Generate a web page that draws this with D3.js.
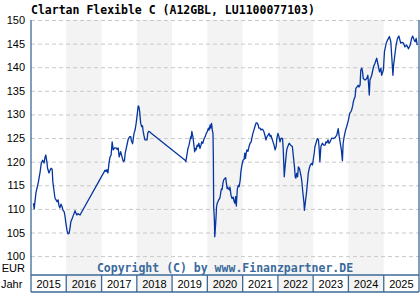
<!DOCTYPE html>
<html>
<head>
<meta charset="utf-8">
<script src="https://cdn.jsdelivr.net/npm/d3@7"></script>
<style>
  html, body { margin: 0; padding: 0; background: #fff; }
  svg { display: block; }
</style>
</head>
<body>
<svg id="chart" width="420" height="300"></svg>
<script>
// ---------- data ----------
const title = "Clartan Flexible C (A12GBL, LU1100077103)";
const copyright = "Copyright (C) by www.Finanzpartner.DE";
const yearLabels = ["2015","2016","2017","2018","2019","2020","2021","2022","2023","2024","2025"];
const yTicks = [100,105,110,115,120,125,130,135,140,145,150];
const unitLabel = "EUR";
const axisLabel = "Jahr";

// time as decimal years
const yearFrac = [
2015.07,2015.09,2015.14,2015.21,2015.26,2015.29,2015.33,2015.37,2015.40,2015.42,2015.45,2015.47,2015.51,2015.54,2015.57,2015.60,2015.62,2015.65,2015.68,2015.71,2015.74,2015.77,2015.79,2015.82,2015.85,2015.88,2015.91,2015.94,2015.96,2015.99,
2016.02,2016.05,2016.08,2016.11,2016.13,2016.18,2016.22,2016.25,2016.28,2016.30,2016.33,2016.39,
2017.10,2017.13,2017.15,2017.18,2017.21,2017.24,2017.27,2017.30,2017.33,2017.37,2017.41,2017.44,2017.47,2017.50,2017.54,2017.58,2017.62,2017.65,2017.67,2017.70,2017.73,2017.76,2017.80,2017.83,2017.84,2017.88,2017.92,2017.95,2017.98,
2018.01,2018.03,2018.04,2018.06,2018.08,2018.11,2018.14,2018.16,2018.18,2018.20,2018.23,2018.26,2018.29,2018.31,2018.33,2018.37,2018.39,
2019.37,2019.39,2019.42,2019.45,2019.48,2019.51,2019.53,2019.54,2019.56,2019.59,2019.62,2019.64,2019.66,2019.68,2019.71,2019.73,2019.76,2019.79,2019.82,2019.84,2019.87,2019.91,2019.94,2019.97,
2020.00,2020.03,2020.05,2020.08,2020.10,2020.12,2020.14,2020.16,2020.17,2020.18,2020.20,2020.21,2020.23,2020.25,2020.26,2020.28,2020.30,2020.32,2020.35,2020.37,2020.39,2020.41,2020.42,2020.44,2020.46,2020.49,2020.52,2020.54,2020.56,2020.58,2020.59,2020.63,2020.64,2020.67,2020.70,2020.73,2020.76,2020.78,2020.80,2020.82,2020.85,2020.88,2020.90,2020.93,2020.95,2020.98,
2021.01,2021.04,2021.06,2021.08,2021.10,2021.12,2021.15,2021.18,2021.21,2021.24,2021.27,2021.29,2021.32,2021.35,2021.38,2021.41,2021.44,2021.46,2021.49,2021.52,2021.55,2021.58,2021.60,2021.63,2021.66,2021.69,2021.72,2021.75,2021.78,2021.80,2021.83,2021.86,2021.89,2021.92,2021.95,2021.97,
2022.00,2022.03,2022.06,2022.09,2022.13,2022.15,2022.18,2022.20,2022.22,2022.25,2022.28,2022.32,2022.36,2022.41,2022.44,2022.47,2022.49,2022.51,2022.53,2022.56,2022.58,2022.61,2022.63,2022.66,2022.68,2022.70,2022.72,2022.74,2022.75,2022.77,2022.79,2022.81,2022.83,2022.85,2022.86,2022.89,2022.92,2022.95,2022.98,
2023.00,2023.03,2023.05,2023.08,2023.12,2023.15,2023.17,2023.19,2023.22,2023.26,2023.30,2023.34,2023.36,2023.39,2023.42,2023.45,2023.48,2023.50,2023.53,2023.58,2023.62,2023.67,2023.71,2023.74,2023.77,2023.80,2023.83,2023.85,2023.88,2023.92,2023.95,
2024.00,2024.02,2024.04,2024.07,2024.09,2024.12,2024.14,2024.16,2024.19,2024.21,2024.25,2024.28,2024.30,2024.33,2024.35,2024.38,2024.40,2024.42,2024.47,2024.52,2024.55,2024.57,2024.59,2024.61,2024.66,2024.71,2024.75,2024.80,2024.85,2024.88,2024.92,2024.94,2024.99,
2025.02,2025.07,2025.11,2025.16,2025.20,2025.23,2025.26,2025.28,2025.32,2025.35,2025.39,2025.43,2025.48,2025.52,2025.56,2025.60,2025.65,2025.70,2025.75,2025.79,2025.82,2025.86,2025.89,2025.92,2025.95
];
const prices = [
111.2,110.0,113.4,115.7,117.9,119.6,120.3,119.7,121.0,121.4,120.0,118.6,117.6,118.2,118.6,118.4,115.7,114.0,112.3,111.9,111.5,111.9,110.8,110.2,111.0,110.5,109.7,109.4,108.7,107.0,
105.5,104.7,104.8,106.1,107.3,108.2,109.0,109.6,109.0,108.7,109.0,108.7,
118.2,117.9,118.3,117.6,119.7,121.0,121.4,124.2,122.5,122.9,122.9,122.6,122.9,121.0,122.1,121.0,120.0,120.3,121.8,122.8,123.9,124.9,125.3,125.3,124.6,123.8,126.0,126.7,128.1,
129.9,131.3,131.8,131.6,130.6,128.1,127.4,127.6,126.4,125.6,124.6,124.6,124.6,126.0,126.4,126.3,126.1,
120.3,120.0,121.4,122.8,123.5,124.6,125.3,124.9,126.4,125.3,123.5,122.1,122.8,122.5,123.5,123.2,123.9,122.8,123.5,124.2,123.9,124.9,125.3,126.0,
126.4,127.1,126.7,127.8,127.1,128.1,126.7,126.0,121.0,110.4,107.6,104.1,106.2,108.7,110.4,111.2,111.5,111.9,112.2,112.9,114.0,114.3,114.1,115.4,116.1,116.4,116.6,115.4,114.3,114.6,114.3,114.0,114.6,112.9,112.2,112.5,111.5,111.2,112.6,110.6,114.3,115.0,114.7,116.1,117.9,119.3,
120.3,120.5,121.8,120.7,121.8,122.5,122.2,123.2,123.9,124.2,125.3,126.0,126.7,127.5,128.2,128.2,127.8,127.1,127.1,126.7,126.9,126.7,126.4,125.6,124.6,125.3,125.6,126.0,125.3,125.6,124.9,124.2,123.5,122.5,123.2,124.9,
126.0,125.3,124.2,125.0,124.9,122.8,116.8,118.6,120.3,122.5,123.2,123.9,123.5,123.2,121.0,118.9,116.8,116.5,117.5,116.8,118.9,118.6,117.9,116.8,115.7,114.0,112.6,111.2,109.7,110.8,112.2,113.3,115.0,116.5,117.5,118.6,119.3,119.6,119.3,
120.3,121.8,123.2,123.9,124.9,124.6,122.8,120.0,123.2,123.9,123.5,123.5,124.2,124.0,124.6,123.9,124.2,124.6,125.0,124.9,125.1,125.6,127.0,125.3,123.9,122.5,120.2,123.9,125.3,126.7,127.4,
128.8,129.6,130.3,130.6,130.9,131.8,132.7,133.2,133.8,135.5,135.9,136.2,135.8,136.2,139.4,139.8,139.0,137.6,137.3,137.6,138.3,136.5,134.1,137.3,138.3,140.1,140.8,141.9,140.1,139.0,139.8,138.3,139.4,
143.3,145.1,145.8,146.5,145.4,141.9,138.3,140.5,142.9,144.7,146.1,146.6,145.1,145.3,145.1,144.3,144.7,143.9,144.7,146.1,146.6,145.8,145.4,146.1,144.7
];

// ---------- helpers ----------
function fracToDate(f) {
  const yr = Math.floor(f);
  const a = new Date(yr, 0, 1), b = new Date(yr + 1, 0, 1);
  return new Date(+a + (f - yr) * (b - a));
}

(function draw() {
  const series = yearFrac.map((f, i) => ({ date: fracToDate(f), value: prices[i] }));
  const years = yearLabels.map(Number);

  const padL = 31, padR = 419, plotTop = 20, plotBottom = 275, rowBottom = 292;
  const svg = d3.select("#chart");
  const frameColor = "#3d6a98";
  const labelFont = "'Liberation Sans', Arial, sans-serif";

  const x = d3.scaleTime()
    .domain([new Date(years[0], 0, 1), new Date(years[years.length - 1] + 1, 0, 1)])
    .range([padL, padR]);
  const y = d3.scaleLinear().domain([96, 150]).range([plotBottom, plotTop]);

  // alternating year bands
  svg.append("g").selectAll("rect")
    .data(years.filter((yr, i) => i % 2 === 1))
    .join("rect")
    .attr("x", d => x(new Date(d, 0, 1)))
    .attr("width", d => x(new Date(d + 1, 0, 1)) - x(new Date(d, 0, 1)))
    .attr("y", plotTop)
    .attr("height", rowBottom - plotTop)
    .attr("fill", "#f3f3f3");

  // grid + y labels via axis
  const yAxis = d3.axisLeft(y).tickValues(yTicks).tickSize(-(padR - padL)).tickPadding(6);
  const gy = svg.append("g").attr("transform", `translate(${padL},0)`).call(yAxis);
  gy.select(".domain").remove();
  gy.selectAll(".tick line")
    .attr("stroke", "#c8c8c8")
    .attr("stroke-dasharray", "4,3");
  gy.selectAll(".tick text")
    .attr("fill", "#000")
    .attr("font-family", labelFont)
    .attr("font-size", "11px");

  // line
  const line = d3.line().x(d => x(d.date)).y(d => y(d.value));
  svg.append("path")
    .datum(series)
    .attr("fill", "none")
    .attr("stroke", "#0535a0")
    .attr("stroke-width", 1.3)
    .attr("stroke-linejoin", "round")
    .attr("d", line);

  // frame
  const frame = svg.append("g").attr("stroke", frameColor).attr("stroke-width", 1.3).attr("fill", "none");
  frame.append("line").attr("x1", padL).attr("x2", padL).attr("y1", plotTop).attr("y2", rowBottom);
  frame.append("line").attr("x1", padR).attr("x2", padR).attr("y1", plotTop).attr("y2", rowBottom);
  frame.append("line").attr("x1", padL).attr("x2", padR).attr("y1", plotBottom).attr("y2", plotBottom);
  frame.append("line").attr("x1", padL).attr("x2", padR).attr("y1", rowBottom).attr("y2", rowBottom);
  frame.selectAll(".sep")
    .data(years.slice(1))
    .join("line")
    .attr("class", "sep")
    .attr("x1", d => x(new Date(d, 0, 1)))
    .attr("x2", d => x(new Date(d, 0, 1)))
    .attr("y1", plotBottom).attr("y2", rowBottom);

  // year labels
  svg.append("g").selectAll("text")
    .data(years)
    .join("text")
    .attr("x", d => (x(new Date(d, 0, 1)) + x(new Date(d + 1, 0, 1))) / 2)
    .attr("y", 288)
    .attr("text-anchor", "middle")
    .attr("font-family", labelFont)
    .attr("font-size", "11px")
    .attr("fill", "#000")
    .text((d, i) => yearLabels[i]);

  svg.append("text")
    .attr("x", 25).attr("y", 272)
    .attr("text-anchor", "end")
    .attr("font-family", labelFont)
    .attr("font-size", "11px")
    .text(unitLabel);

  svg.append("text")
    .attr("x", 1).attr("y", 288)
    .attr("font-family", labelFont)
    .attr("font-size", "11px")
    .text(axisLabel);

  // copyright
  svg.append("text")
    .attr("x", (padL + padR) / 2).attr("y", 272)
    .attr("text-anchor", "middle")
    .attr("font-family", "'DejaVu Sans Mono', monospace")
    .attr("font-weight", "bold")
    .attr("font-size", "11.5px")
    .attr("fill", "#3a6a9c")
    .text(copyright);

  // title
  svg.append("text")
    .attr("x", 31).attr("y", 14)
    .attr("font-family", "'DejaVu Sans Mono', monospace")
    .attr("font-weight", "bold")
    .attr("font-size", "11.5px")
    .attr("fill", "#000")
    .text(title);
})();
</script>
</body>
</html>
